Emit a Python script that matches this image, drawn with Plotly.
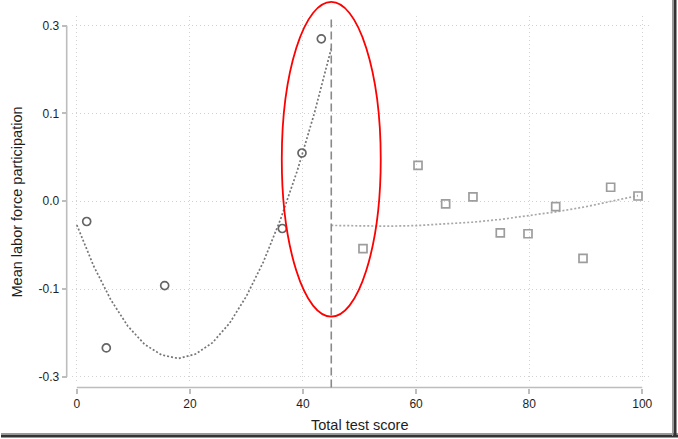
import plotly.graph_objects as go

# ---- data ----
left_x = [1.75, 5.22, 15.54, 36.34, 39.82, 43.24]
left_y = [-0.023, -0.167, -0.096, -0.031, 0.055, 0.185]

right_x = [50.61, 60.34, 65.23, 70.06, 74.89, 79.79, 84.69, 89.52, 94.41, 99.24]
right_y = [-0.054, 0.041, -0.003, 0.005, -0.036, -0.037, -0.006, -0.065, 0.016, 0.006]

left_fit_x = [0, 3, 6, 9, 12, 15, 18, 21, 24, 27, 30, 33, 36, 39, 42, 45]
left_fit_y = [-0.027, -0.074, -0.112, -0.142, -0.163, -0.175, -0.179, -0.174,
              -0.161, -0.139, -0.108, -0.069, -0.021, 0.035, 0.100, 0.174]

right_fit_x = [45, 50, 55, 60, 65, 70, 75, 80, 85, 90, 95, 99.24]
right_fit_y = [-0.0275, -0.0283, -0.0284, -0.0277, -0.0261, -0.0238, -0.0206,
               -0.0166, -0.0118, -0.0062, 0.0003, 0.0064]

cutoff = 45

x_ticks = [0, 20, 40, 60, 80, 100]
y_tickvals = [-0.2, -0.1, 0.0, 0.1, 0.2]
y_ticktext = ["-0.3", "-0.1", "0.0", "0.1", "0.3"]

# highlight ellipse (data units)
ell_x = [36.25, 53.75]
ell_y = [-0.1314, 0.227]

# ---- layout geometry ----
W, H = 678, 439
ML, MR, MT, MB = 60, 26, 16, 45
XR = [-0.85, 101.72]
YR = [-0.2058, 0.2110]
x_dom = [(72 - ML) / (W - ML - MR), 1]
y_dom = [(H - MB - 382) / (H - MB - MT), 1]
ypos = (66.7 - ML) / (W - ML - MR)
xpos = (H - MB - 387.5) / (H - MB - MT)

FONT = "Liberation Sans, Arial, Helvetica, sans-serif"
AXC = "#bdbdbd"
GRIDC = "#d2d2d2"

fig = go.Figure()
fig.add_trace(go.Scatter(x=left_fit_x, y=left_fit_y, mode="lines",
                         line=dict(color="#767676", width=1.7, dash="2px,2px"),
                         hoverinfo="skip"))
fig.add_trace(go.Scatter(x=right_fit_x, y=right_fit_y, mode="lines",
                         line=dict(color="#a8a8a8", width=1.7, dash="2px,2px"),
                         hoverinfo="skip"))
fig.add_trace(go.Scatter(x=left_x, y=left_y, mode="markers",
                         marker=dict(symbol="circle-open", size=8, color="#656565",
                                     line=dict(width=1.7))))
fig.add_trace(go.Scatter(x=right_x, y=right_y, mode="markers",
                         marker=dict(symbol="square-open", size=8, color="#9d9d9d",
                                     line=dict(width=1.7))))

def fx(v):
    return (v - XR[0]) / (XR[1] - XR[0])

def fy(v):
    return (v - YR[0]) / (YR[1] - YR[0])

shapes = [
    # y axis line
    dict(type="line", xref="paper", yref="y", x0=ypos, x1=ypos,
         y0=y_tickvals[0], y1=y_tickvals[-1], line=dict(color=AXC, width=1.6)),
    # x axis line
    dict(type="line", xref="x", yref="paper", x0=x_ticks[0], x1=x_ticks[-1],
         y0=xpos, y1=xpos, line=dict(color=AXC, width=1.6)),
    # cutoff line
    dict(type="line", xref="x", yref="paper", x0=cutoff, x1=cutoff, y0=xpos, y1=1,
         line=dict(color="#8a8a8a", width=1.6, dash="8px,4px"), layer="above"),
    # red ellipse
    dict(type="circle", xref="x domain", yref="y domain",
         x0=fx(ell_x[0]), x1=fx(ell_x[1]), y0=fy(ell_y[0]), y1=fy(ell_y[1]),
         line=dict(color="#ff0000", width=1.8), layer="above"),
]
# screenshot frame shadow (right and bottom)
pw, ph = W - ML - MR, H - MB - MT
def px(v):
    return (v - ML) / pw
def py(v):
    return (H - MB - v) / ph
shapes += [
    dict(type="line", xref="paper", yref="paper", x0=px(1), x1=px(678),
         y0=py(433.5), y1=py(433.5), line=dict(color="#9a9a9a", width=1)),
    dict(type="line", xref="paper", yref="paper", x0=px(1), x1=px(678),
         y0=py(436), y1=py(436), line=dict(color="#333333", width=3)),
    dict(type="line", xref="paper", yref="paper", x0=px(672.5), x1=px(672.5),
         y0=py(0), y1=py(436), line=dict(color="#9a9a9a", width=1)),
    dict(type="line", xref="paper", yref="paper", x0=px(675), x1=px(675),
         y0=py(0), y1=py(437), line=dict(color="#333333", width=3)),
]

fig.update_layout(
    width=W, height=H,
    margin=dict(l=ML, r=MR, t=MT, b=MB, pad=0),
    paper_bgcolor="white", plot_bgcolor="white",
    showlegend=False,
    font=dict(family=FONT, size=12, color="#1e1e1e"),
    shapes=shapes,
    xaxis=dict(domain=x_dom, range=XR, anchor="free", position=xpos,
               tickvals=x_ticks, ticks="outside", ticklen=5, tickwidth=1.5,
               tickcolor=AXC, showline=False, zeroline=False,
               showgrid=True, gridcolor=GRIDC, griddash="1px,3px", gridwidth=1,
               tickfont=dict(size=12)),
    yaxis=dict(domain=y_dom, range=YR, anchor="free", position=ypos,
               tickvals=y_tickvals, ticktext=y_ticktext, ticks="outside",
               ticklen=5, tickwidth=1.5, tickcolor=AXC, showline=False,
               zeroline=False, showgrid=True, gridcolor=GRIDC,
               griddash="1px,3px", gridwidth=1, tickfont=dict(size=12)),
    annotations=[
        dict(text="Total test score", xref="paper", yref="paper",
             x=px(359.7), y=py(425), xanchor="center", yanchor="middle",
             showarrow=False, font=dict(size=14.5, color="#1e1e1e")),
        dict(text="Mean labor force participation", xref="paper", yref="paper",
             x=px(16), y=py(202.5), xanchor="center", yanchor="middle",
             textangle=-90, showarrow=False, font=dict(size=14.5, color="#1e1e1e")),
    ],
)

fig.write_html("out.html",
               config={"displayModeBar": False},
               post_script="document.body.style.margin='0';document.body.style.overflow='hidden';")
